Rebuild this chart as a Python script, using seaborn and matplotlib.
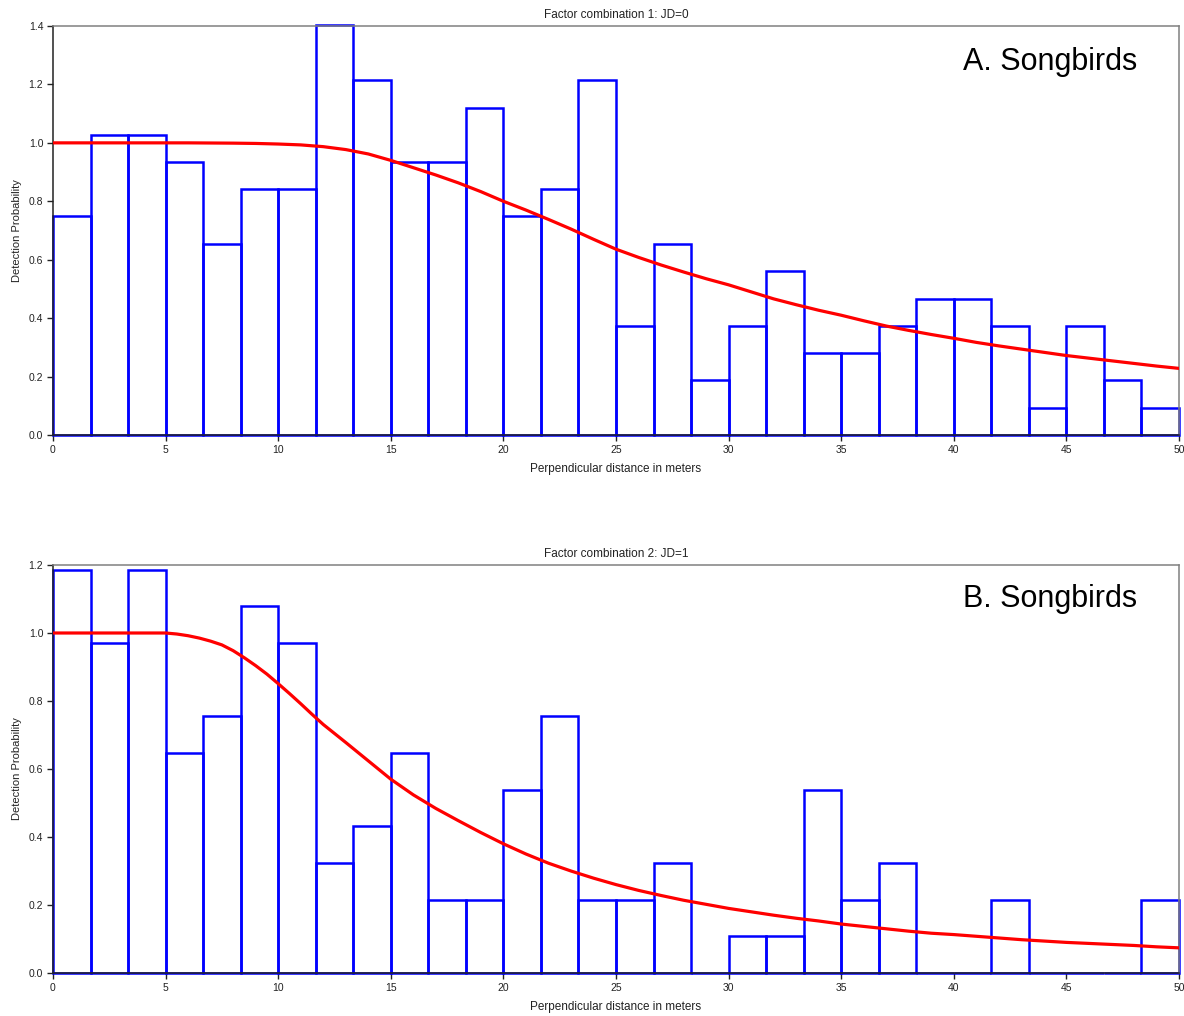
import numpy as np
import pandas as pd
import matplotlib
matplotlib.use("Agg")
import matplotlib.pyplot as plt
from matplotlib.ticker import FormatStrFormatter
import seaborn as sns

# ---------------- data ----------------
bin_edges = list(np.linspace(0, 50, 31))          # 30 distance bins of 1.667 m

heights_a = [0.748, 1.028, 1.028, 0.935, 0.654, 0.841, 0.841, 1.402, 1.215, 0.935,
             0.935, 1.121, 0.748, 0.841, 1.215, 0.374, 0.654, 0.187, 0.374, 0.561,
             0.280, 0.280, 0.374, 0.467, 0.467, 0.374, 0.093, 0.374, 0.187, 0.093]

heights_b = [1.186, 0.970, 1.186, 0.647, 0.755, 1.078, 0.970, 0.323, 0.431, 0.647,
             0.216, 0.216, 0.539, 0.755, 0.216, 0.216, 0.323, 0.0, 0.108, 0.108,
             0.539, 0.216, 0.323, 0.0, 0.0, 0.216, 0.0, 0.0, 0.0, 0.216]

curve_a_x = [0, 2, 4, 6, 8, 9, 10, 11, 12, 13, 14, 15, 16, 17, 18, 19, 20, 21, 22, 23,
             24, 25, 26, 27, 28, 29, 30, 31, 32, 33, 34, 35, 36, 37, 38, 39, 40, 41, 42,
             43, 44, 45, 46, 47, 48, 49, 50]
curve_a_y = [1.0, 1.0, 1.0, 1.0, 0.999, 0.998, 0.996, 0.993, 0.987, 0.977, 0.962, 0.940,
             0.915, 0.890, 0.863, 0.833, 0.800, 0.770, 0.738, 0.705, 0.670, 0.636, 0.608,
             0.582, 0.558, 0.535, 0.514, 0.490, 0.466, 0.446, 0.427, 0.410, 0.391, 0.373,
             0.358, 0.344, 0.331, 0.317, 0.305, 0.294, 0.283, 0.272, 0.263, 0.254, 0.245,
             0.236, 0.228]

curve_b_x = [0, 2, 4, 5, 5.5, 6, 6.5, 7, 7.5, 8, 8.5, 9, 9.5, 10, 10.5, 11, 11.5, 12,
             13, 14, 15, 16, 17, 18, 19, 20, 21, 22, 23, 24, 25, 26, 27, 28, 29, 30, 31,
             32, 33, 34, 35, 36, 37, 38, 39, 40, 41, 42, 43, 44, 45, 46, 47, 48, 49, 50]
curve_b_y = [1.0, 1.0, 1.0, 1.0, 0.997, 0.992, 0.985, 0.976, 0.965, 0.948, 0.927, 0.904,
             0.879, 0.851, 0.822, 0.792, 0.761, 0.731, 0.678, 0.624, 0.570, 0.524, 0.484,
             0.448, 0.413, 0.380, 0.350, 0.323, 0.300, 0.279, 0.260, 0.243, 0.228, 0.214,
             0.202, 0.190, 0.180, 0.170, 0.161, 0.153, 0.144, 0.137, 0.130, 0.123, 0.117,
             0.113, 0.108, 0.103, 0.098, 0.094, 0.090, 0.087, 0.084, 0.081, 0.077, 0.074]

titles = ["Factor combination 1: JD=0", "Factor combination 2: JD=1"]
labels = ["A. Songbirds", "B. Songbirds"]
xlabel = "Perpendicular distance in meters"
ylabel = "Detection Probability"
ylims = [1.4, 1.2]

# ---------------- style ----------------
sns.set_theme(style="white")
plt.rcParams["font.family"] = ["Liberation Sans", "DejaVu Sans"]

fig = plt.figure(figsize=(11.84, 10.16), dpi=100)
W, H = 1184, 1016
boxes = [(53, 26, 1179, 435), (53, 565, 1179, 973)]

edges_arr = np.array(bin_edges)
centers = (edges_arr[:-1] + edges_arr[1:]) / 2
panels = [(heights_a, curve_a_x, curve_a_y), (heights_b, curve_b_x, curve_b_y)]

for i, (box, (hts, cx, cy)) in enumerate(zip(boxes, panels)):
    l, t, r, b = box
    ax = fig.add_axes([l / W, 1 - b / H, (r - l) / W, (b - t) / H])
    df = pd.DataFrame({"dist": centers, "prob": hts})
    sns.histplot(data=df, x="dist", weights="prob", bins=bin_edges, fill=False,
                 element="bars", color="#0000FF", linewidth=1.8, ax=ax, zorder=2)
    for p in ax.patches:
        p.set_edgecolor("#0000FF")
        p.set_clip_on(False)
    cdf = pd.DataFrame({"x": cx, "y": cy})
    sns.lineplot(data=cdf, x="x", y="y", color="#FF0000", linewidth=2.3, ax=ax, zorder=3)

    ax.set_xlim(0, 50)
    ax.set_ylim(0, ylims[i])
    ax.set_xticks(np.arange(0, 51, 5))
    ax.set_yticks(np.arange(0, ylims[i] + 0.001, 0.2))
    ax.yaxis.set_major_formatter(FormatStrFormatter("%.1f"))
    ax.tick_params(axis="both", which="major", direction="out", length=4, width=1,
                   color="#222222", labelsize=7.5, labelcolor="#222222",
                   bottom=True, left=True, pad=3)
    for s in ["left", "bottom"]:
        ax.spines[s].set_color("#222222")
        ax.spines[s].set_linewidth(1.1)
    for s in ["top", "right"]:
        ax.spines[s].set_color("#808080")
        ax.spines[s].set_linewidth(1.1)
    ax.set_title(titles[i], fontsize=8.5, color="#222222", pad=6)
    ax.set_xlabel(xlabel, fontsize=8.5, color="#222222", labelpad=6)
    ax.set_ylabel(ylabel, fontsize=8, color="#222222")
    ax.yaxis.set_label_coords(-0.0275, 0.5)
    ax.text(0.963, 0.912 if i == 0 else 0.917, labels[i], transform=ax.transAxes,
            ha="right", va="center", fontsize=22, color="black")

fig.savefig("out.png", dpi=100, facecolor="white")
